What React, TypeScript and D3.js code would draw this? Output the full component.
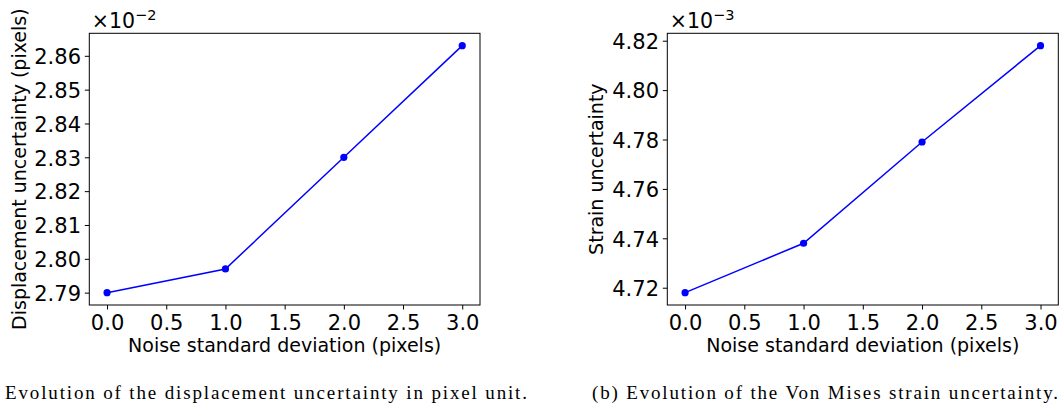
import { useEffect, useRef } from 'react';
import * as d3 from 'd3';

const W = 1059;
const H = 405;

// noise levels on the x axis (pixels)
const noiseLevels = [0, 1, 2, 3];
const xTicks = [0, 0.5, 1, 1.5, 2, 2.5, 3];

// left panel, values in units of 1e-2 pixels
const displacementUnc = [2.79, 2.797, 2.83, 2.863];
const dispTicks = [2.79, 2.8, 2.81, 2.82, 2.83, 2.84, 2.85, 2.86];

// right panel, values in units of 1e-3
const strainUnc = [4.718, 4.738, 4.779, 4.818];
const strainTicks = [4.72, 4.74, 4.76, 4.78, 4.8, 4.82];

const captions = [
  'Evolution of the displacement uncertainty in pixel unit.',
  '(b) Evolution of the Von Mises strain uncertainty.',
];

const SANS = '"DejaVu Sans", Verdana, sans-serif';
const SERIF = '"Liberation Serif", "Times New Roman", serif';
const BLUE = '#0000ff';
const TICK_FS = 21;
const LABEL_FS = 19;

interface PanelProps {
  left: number;
  right: number;
  values: number[];
  yTicks: number[];
  exponent: string;
  yLabel: string;
  yLabelX: number;
}

function Panel({ left, right, values, yTicks, exponent, yLabel, yLabelX }: PanelProps) {
  const gx = useRef<SVGGElement>(null);
  const gy = useRef<SVGGElement>(null);
  const top = 33.3;
  const bottom = 305;

  const x = d3.scaleLinear().domain([-0.15, 3.15]).range([left, right]);
  const lo = d3.min(values)!;
  const hi = d3.max(values)!;
  const pad = (hi - lo) * 0.05;
  const y = d3.scaleLinear().domain([lo - pad, hi + pad]).range([bottom, top]);

  const line = d3
    .line<number>()
    .x((_, i) => x(noiseLevels[i]))
    .y((d) => y(d));

  useEffect(() => {
    const ax = d3
      .axisBottom(x)
      .tickValues(xTicks)
      .tickFormat(d3.format('.1f'))
      .tickSizeOuter(0)
      .tickSize(4.5)
      .tickPadding(5);
    const sx = d3.select(gx.current!).call(ax);
    sx.select('.domain').remove();
    sx.selectAll('line').attr('stroke', '#000').attr('stroke-width', 1);
    sx.selectAll('text')
      .attr('font-family', SANS)
      .attr('font-size', TICK_FS)
      .attr('fill', '#000')
      .attr('dy', null)
      .attr('y', 25);

    const ay = d3
      .axisLeft(y)
      .tickValues(yTicks)
      .tickFormat(d3.format('.2f'))
      .tickSizeOuter(0)
      .tickSize(4.5)
      .tickPadding(3.8);
    const sy = d3.select(gy.current!).call(ay);
    sy.select('.domain').remove();
    sy.selectAll('line').attr('stroke', '#000').attr('stroke-width', 1);
    sy.selectAll('text')
      .attr('font-family', SANS)
      .attr('font-size', TICK_FS)
      .attr('fill', '#000')
      .attr('dy', '0.37em');
  });

  return (
    <g>
      <g ref={gx} transform={`translate(0,${bottom})`} />
      <g ref={gy} transform={`translate(${left},0)`} />
      <rect
        x={left}
        y={top}
        width={right - left}
        height={bottom - top}
        fill="none"
        stroke="#000"
        strokeWidth={1}
      />
      <path d={line(values) || ''} fill="none" stroke={BLUE} strokeWidth={1.5} />
      {values.map((v, i) => (
        <circle key={i} cx={x(noiseLevels[i])} cy={y(v)} r={3.6} fill={BLUE} />
      ))}
      {/* offset text */}
      <text x={left + 2.5} y={28} fontFamily={SANS} fontSize={20.5} fill="#000">
        ×10
        <tspan dy={-8} fontSize={14.5}>
          {exponent}
        </tspan>
      </text>
      <text
        x={(left + right) / 2}
        y={352}
        textAnchor="middle"
        fontFamily={SANS}
        fontSize={LABEL_FS}
        fill="#000"
      >
        Noise standard deviation (pixels)
      </text>
      <text
        transform={`translate(${yLabelX},${(top + bottom) / 2}) rotate(-90)`}
        textAnchor="middle"
        fontFamily={SANS}
        fontSize={LABEL_FS}
        fill="#000"
      >
        {yLabel}
      </text>
    </g>
  );
}

export default function App() {
  return (
    <svg
      width={W}
      height={H}
      style={{ position: 'absolute', left: 0, top: 0, background: '#fff' }}
    >
      <Panel
        left={89.3}
        right={480}
        values={displacementUnc}
        yTicks={dispTicks}
        exponent="−2"
        yLabel="Displacement uncertainty (pixels)"
        yLabelX={26}
      />
      <Panel
        left={667.3}
        right={1058.3}
        values={strainUnc}
        yTicks={strainTicks}
        exponent="−3"
        yLabel="Strain uncertainty"
        yLabelX={603}
      />
      <text x={5} y={399} fontFamily={SERIF} fontSize={19} fill="#000" textLength={522} lengthAdjust="spacing">
        {captions[0]}
      </text>
      <text x={592} y={399} fontFamily={SERIF} fontSize={19} fill="#000" textLength={466} lengthAdjust="spacing">
        {captions[1]}
      </text>
    </svg>
  );
}
